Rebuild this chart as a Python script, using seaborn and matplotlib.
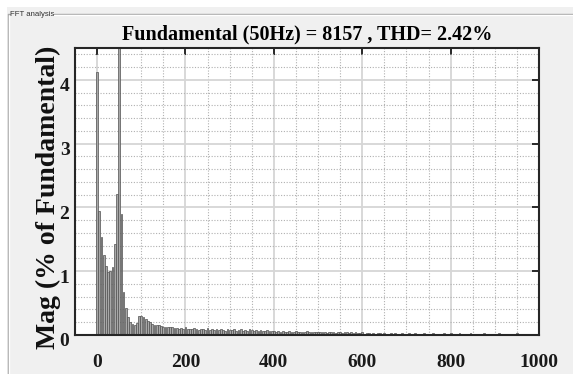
import numpy as np
import pandas as pd
import matplotlib
matplotlib.use("Agg")
import matplotlib.pyplot as plt
import seaborn as sns
from matplotlib.ticker import MultipleLocator
from matplotlib.transforms import ScaledTranslation
from matplotlib.lines import Line2D
from matplotlib.patches import Rectangle

# ---------------- data ----------------
bin_step_hz = 5  # FFT bin spacing

mag_0_50 = [4.12, 1.95, 1.53, 1.25, 1.08, 0.99, 1.00, 1.07, 1.42, 2.21, 100.0]
mag_55_195 = [1.90, 0.68, 0.42, 0.29, 0.20, 0.18, 0.16, 0.19, 0.30,
              0.30, 0.28, 0.25, 0.22, 0.20, 0.17, 0.16, 0.16, 0.15, 0.14,
              0.13, 0.13, 0.12, 0.13, 0.12, 0.11, 0.11, 0.10, 0.11, 0.10]
mag_200_395 = [0.12, 0.09, 0.10, 0.09, 0.11, 0.09, 0.08, 0.10, 0.09, 0.08,
               0.11, 0.08, 0.09, 0.08, 0.10, 0.08, 0.09, 0.08, 0.07, 0.09,
               0.08, 0.08, 0.10, 0.07, 0.08, 0.09, 0.07, 0.08, 0.07, 0.09,
               0.08, 0.07, 0.08, 0.07, 0.08, 0.07, 0.06, 0.08, 0.07, 0.06]
mag_400_595 = [0.06, 0.05, 0.07, 0.05, 0.06, 0.05, 0.04, 0.06, 0.05, 0.05,
               0.06, 0.04, 0.05, 0.05, 0.04, 0.06, 0.05, 0.04, 0.05, 0.04,
               0.05, 0.04, 0.04, 0.05, 0.03, 0.04, 0.05, 0.04, 0.03, 0.04,
               0.04, 0.03, 0.05, 0.04, 0.03, 0.04, 0.03, 0.04, 0.03, 0.03]
mag_600_795 = [0.04, 0.02, 0.03, 0.03, 0.02, 0.03, 0.02, 0.03, 0.03, 0.02,
               0.03, 0.02, 0.02, 0.03, 0.02, 0.03, 0.02, 0.02, 0.03, 0.02,
               0.02, 0.03, 0.02, 0.02, 0.03, 0.02, 0.02, 0.02, 0.03, 0.02,
               0.02, 0.02, 0.03, 0.02, 0.02, 0.02, 0.02, 0.03, 0.02, 0.02]
mag_800_1000 = [0.03, 0.02, 0.02, 0.02, 0.03, 0.02, 0.02, 0.02, 0.02, 0.03,
                0.02, 0.02, 0.02, 0.02, 0.02, 0.03, 0.02, 0.02, 0.02, 0.02,
                0.02, 0.02, 0.03, 0.02, 0.02, 0.02, 0.02, 0.02, 0.02, 0.02,
                0.03, 0.02, 0.02, 0.02, 0.02, 0.02, 0.02, 0.02, 0.02, 0.02,
                0.02]

mag = mag_0_50 + mag_55_195 + mag_200_395 + mag_400_595 + mag_600_795 + mag_800_1000
freq_hz = [i * bin_step_hz for i in range(len(mag))]

title_text = "Fundamental (50Hz) = 8157 , THD= 2.42%"
ylabel_text = "Mag (% of Fundamental)"
panel_text = "FFT analysis"
x_ticks = [0, 200, 400, 600, 800, 1000]
y_ticks = [0, 1, 2, 3, 4]

# ---------------- style ----------------
sns.set_style("white")
plt.rcParams["font.family"] = ["Liberation Serif", "DejaVu Serif"]
plt.rcParams["font.weight"] = "bold"

W, H = 573, 374
fig = plt.figure(figsize=(W / 100, H / 100), dpi=100, facecolor="#f0f0f0")

# white outer margins (window background)
fig.patches.append(Rectangle((0, 1 - 7 / H), 1, 7 / H, transform=fig.transFigure,
                             facecolor="white", edgecolor="none", zorder=0))
fig.patches.append(Rectangle((0, 0), 7 / W, 1, transform=fig.transFigure,
                             facecolor="white", edgecolor="none", zorder=0))

# panel border (etched line) and its caption
def px_line(xs, ys, color, lw=1.0):
    fig.add_artist(Line2D([x / W for x in xs], [1 - y / H for y in ys],
                          transform=fig.transFigure, color=color, lw=lw))

px_line([8, 8], [13.5, H], "#a8a8a8")
px_line([9, 9], [14.5, H], "white")
px_line([8, 9.5], [13.5, 13.5], "#a8a8a8")
px_line([54, W], [13.5, 13.5], "#a8a8a8")
px_line([54, W], [14.5, 14.5], "white")
fig.text(9.5 / W, 1 - 15 / H, panel_text, fontsize=5.6, fontweight="normal",
         family=["Liberation Sans", "DejaVu Sans"], color="#303030",
         ha="left", va="center")

ax = fig.add_axes([75 / W, (H - 335) / H, 464 / W, 287 / H])
ax.set_facecolor("white")

df = pd.DataFrame({"freq": freq_hz, "mag": mag})
sns.barplot(data=df, x="freq", y="mag", native_scale=True, width=0.8,
            color="#a8a8a8", saturation=1, edgecolor="#505050", linewidth=0.5,
            errorbar=None, ax=ax)

ax.set_xlim(-50, 1000)
ax.set_ylim(0, 4.5)
ax.set_xticks(x_ticks)
ax.set_yticks(y_ticks)
ax.set_xticklabels([str(t) for t in x_ticks])
ax.set_yticklabels([str(t) for t in y_ticks])
ax.xaxis.set_minor_locator(MultipleLocator(50))
ax.yaxis.set_minor_locator(MultipleLocator(0.2))

ax.set_axisbelow(True)
ax.grid(which="major", color="#d6d6d6", lw=1.3, ls="-")
ax.grid(which="minor", color="#b0b0b0", lw=0.8, ls=(0, (1, 1.5)))

ax.tick_params(which="major", direction="in", length=5, width=1.3,
               top=True, right=True, labelsize=14, colors="#1a1a1a")
ax.tick_params(which="minor", length=0)
ax.tick_params(axis="x", pad=14)
ax.tick_params(axis="y", pad=4)

for s in ax.spines.values():
    s.set_color("#262626")
    s.set_linewidth(1.5)

ax.set_title(title_text, fontsize=14.5, fontweight="bold", pad=6, color="black")
ax.set_xlabel("")
ax.set_ylabel(ylabel_text, fontsize=20, fontweight="bold", color="#111111")
ax.yaxis.set_label_coords(-0.031, 0.48)

shift = ScaledTranslation(0, -5 / 100, fig.dpi_scale_trans)
for lab in ax.get_yticklabels():
    lab.set_transform(lab.get_transform() + shift)

fig.savefig("out.png", dpi=100, facecolor=fig.get_facecolor())
